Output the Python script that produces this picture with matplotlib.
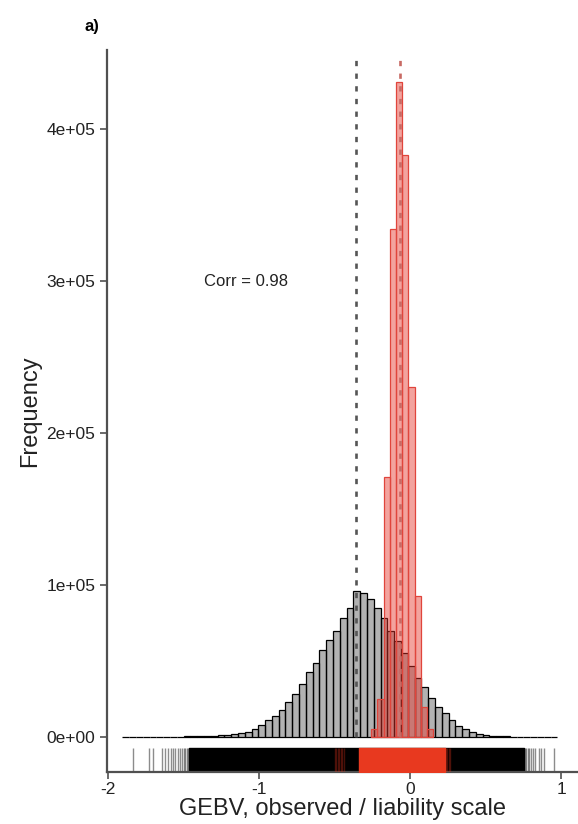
import numpy as np
import matplotlib
matplotlib.use("Agg")
import matplotlib.pyplot as plt
from matplotlib.ticker import FuncFormatter

plt.rcParams['font.family'] = ['Liberation Sans', 'DejaVu Sans']
plt.rcParams['axes.unicode_minus'] = False

# observed-scale GEBV histogram: bins of 0.045 starting at -1.905
obs_start = -1.905
obs_width = 0.045
obs_counts = [100, 100, 150, 150, 200, 200, 250, 300, 350, 400,
              500, 650, 800, 1000, 1200, 1500, 1900, 2400, 3200, 5500,
              8000, 11000, 14000, 18000, 23000, 28000, 35000, 43000, 49000, 57000,
              64000, 70000, 78000, 85000, 96000, 95000, 91000, 85000, 78000, 70000,
              63000, 55000, 47000, 39000, 33000, 26000, 20000, 15500, 11000, 7500,
              5000, 3200, 2200, 1500, 1000, 700, 500, 350, 250, 200,
              150, 100, 100, 50]

# liability-scale GEBV histogram: bins of 0.041 starting at -0.257
liab_start = -0.257
liab_width = 0.041
liab_counts = [5000, 25000, 171000, 334000, 431000, 383000, 230000, 93000, 20000, 5000]

obs_mean = -0.358
liab_mean = -0.064
corr_text = "Corr = 0.98"

# rug: isolated values and the dense stretches
obs_rug = [-1.836, -1.73, -1.70, -1.64, -1.62, -1.60, -1.585, -1.57, -1.555,
           -1.54, -1.525, -1.51, -1.50, -1.49, -1.48, -1.47,
           0.76, 0.77, 0.78, 0.79, 0.80, 0.815, 0.83, 0.855, 0.87, 0.885, 0.955]
obs_rug_band = (-1.465, 0.755)
liab_rug = [-0.50, -0.49, -0.48, -0.47, -0.46, -0.45, -0.44, 0.235, 0.245, 0.255, 0.265]
liab_rug_band = (-0.34, 0.23)

xticks = [-2, -1, 0, 1]
yticks = [0, 100000, 200000, 300000, 400000]

obs_edges = obs_start + obs_width * np.arange(len(obs_counts) + 1)
liab_edges = liab_start + liab_width * np.arange(len(liab_counts) + 1)

fig = plt.figure(figsize=(5.78, 8.24), dpi=100)
ax = fig.add_axes([107 / 578, 1 - 772 / 824, 1 - 107 / 578, (772 - 50) / 824])

axis_col = '#505050'
ax.bar(obs_edges[:-1], obs_counts, width=np.diff(obs_edges), align='edge',
       color=(0, 0, 0, 0.3), edgecolor='black', linewidth=0.9, zorder=2)
ax.bar(liab_edges[:-1], liab_counts, width=np.diff(liab_edges), align='edge',
       color=(0.9, 0.2, 0.16, 0.45), edgecolor='#e0453c', linewidth=0.9, zorder=3)

ax.vlines(obs_mean, 0, 447000, color='#555555', linestyle=(0, (2.0, 2.8)),
          linewidth=1.9, zorder=4)
ax.vlines(liab_mean, 0, 447000, color='#c86a64', linestyle=(0, (2.0, 2.8)),
          linewidth=1.9, zorder=4)

ybot, ytop = -23000, -7000
ax.vlines(obs_rug, ybot, ytop, color='black', alpha=0.45, linewidth=1.0, zorder=2)
ax.broken_barh([(obs_rug_band[0], obs_rug_band[1] - obs_rug_band[0])],
               (ybot, ytop - ybot), color='black', zorder=2)
ax.vlines(liab_rug, ybot, ytop, color='#e8341c', alpha=0.3, linewidth=1.0, zorder=3)
ax.broken_barh([(liab_rug_band[0], liab_rug_band[1] - liab_rug_band[0])],
               (ybot, ytop - ybot), color='#e8391f', zorder=3)

ax.text(-1.086, 300000, corr_text, ha='center', va='center', fontsize=12, color='#222222')

ax.set_xlim(-2.007, 1.112)
ax.set_ylim(-23000, 452000)
ax.set_xticks(xticks)
ax.set_yticks(yticks)
ax.yaxis.set_major_formatter(FuncFormatter(lambda v, p: f"{v:.0e}"))
ax.tick_params(labelsize=12.5, colors='#222222', length=5, width=1.2)
ax.tick_params(axis='both', color=axis_col)
ax.tick_params(axis='x', pad=2)
for s in ['top', 'right']:
    ax.spines[s].set_visible(False)
for s in ['left', 'bottom']:
    ax.spines[s].set_color(axis_col)
    ax.spines[s].set_linewidth(1.6)

ax.set_xlabel('GEBV, observed / liability scale', fontsize=17, color='#222222', labelpad=1)
ax.set_ylabel('Frequency', fontsize=17, color='#222222', labelpad=4)
fig.text(92 / 578, 1 - 27 / 824, 'a)', fontsize=12, fontweight='bold', ha='center', va='center')

fig.savefig('out.png', dpi=100)
